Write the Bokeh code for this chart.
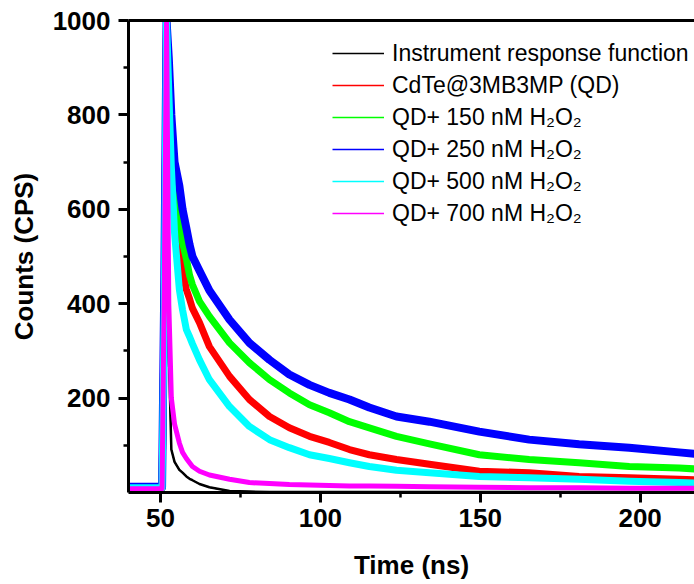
from bokeh.plotting import figure
from bokeh.models import Range1d, FixedTicker, LinearAxis, Legend, LegendItem
from bokeh.embed import file_html
from bokeh.resources import INLINE

# ---- data ----
time_ns = [40, 50.5, 51.2, 51.9, 52.6, 53.4, 54.4, 55.9, 56.9, 58.1, 59.1, 60.0, 62.2, 65.3,
           71.6, 77.8, 84.1, 90.3, 96.6, 102.8, 109.1, 115.3, 123.8, 134.1, 149.7, 165.3,
           180.9, 196.6, 212.2, 217]
irf = [2, 2, 300, 1000, 300, 91, 65, 48, 42, 34, 29, 26, 18, 11,
       3, 2, 1, 1, 1, 1, 1, 1, 1, 1, 1, 1, 1, 1, 1, 1]
qd = [10, 10, 400, 1000, 820, 730, 669, 520, 470, 430, 410, 390, 360, 309,
      246, 197, 161, 137, 119, 106, 91, 80, 70, 60, 45, 42, 34, 31, 28, 27]
qd_150 = [10, 10, 400, 1000, 880, 783, 680, 584, 530, 495, 460, 440, 405, 373,
          317, 275, 239, 211, 186, 169, 150, 137, 119, 103, 80, 70, 63, 55, 52, 50]
qd_250 = [12, 12, 450, 1000, 920, 800, 700, 650, 600, 560, 525, 500, 470, 428,
          366, 317, 281, 250, 228, 211, 197, 180, 161, 150, 129, 112, 102, 95, 85, 82]
qd_500 = [10, 10, 400, 1000, 850, 690, 550, 430, 387, 345, 330, 315, 281, 239,
          182, 140, 112, 95, 80, 72, 63, 55, 47, 42, 34, 31, 28, 24, 21, 20]
qd_700 = [8, 8, 450, 1000, 400, 200, 145, 105, 85, 72, 63, 55, 45, 37,
          28, 21, 19, 17, 16, 15, 14, 14, 13, 12, 11, 10, 10, 9, 9, 9]

series_labels = ["Instrument response function", "CdTe@3MB3MP (QD)",
                 "QD+ 150 nM H\u2082O\u2082", "QD+ 250 nM H\u2082O\u2082",
                 "QD+ 500 nM H\u2082O\u2082", "QD+ 700 nM H\u2082O\u2082"]
series_values = [irf, qd, qd_150, qd_250, qd_500, qd_700]
series_colors = ["#000000", "#ff0000", "#00ff00", "#0000ff", "#00ffff", "#ff00ff"]
series_widths = [2.5, 7, 7, 8, 7, 5]

x_ticks = [50, 100, 150, 200]
x_minor = [75, 125, 175]
y_ticks = [200, 400, 600, 800, 1000]
y_minor = [100, 300, 500, 700, 900]

FONT = "Liberation Sans"

p = figure(width=694, height=584, output_backend="svg", toolbar_location=None,
           x_range=Range1d(40, 217), y_range=Range1d(0, 1000),
           min_border_left=128, min_border_right=0, min_border_top=20,
           min_border_bottom=92, x_axis_label="Time (ns)", y_axis_label="Counts (CPS)")
p.xgrid.visible = False
p.ygrid.visible = False
p.outline_line_color = None
p.background_fill_color = "white"
p.border_fill_color = "white"

p.xaxis.ticker = FixedTicker(ticks=x_ticks, minor_ticks=x_minor)
p.yaxis.ticker = FixedTicker(ticks=y_ticks, minor_ticks=y_minor)

for ax in (p.xaxis[0], p.yaxis[0]):
    ax.axis_line_width = 3
    ax.axis_line_color = "black"
    ax.major_tick_line_width = 3
    ax.minor_tick_line_width = 2.5
    ax.major_tick_out = 10
    ax.major_tick_in = 0
    ax.minor_tick_out = 5
    ax.minor_tick_in = 0
    ax.major_label_text_font = FONT
    ax.major_label_text_font_style = "bold"
    ax.major_label_text_font_size = "26px"
    ax.major_label_text_color = "black"
    ax.axis_label_text_font = FONT
    ax.axis_label_text_font_style = "bold"
    ax.axis_label_text_font_size = "26px"
    ax.axis_label_text_color = "black"
p.xaxis.major_label_standoff = 6
p.xaxis.axis_label_standoff = 20
p.yaxis.major_label_standoff = 8
p.yaxis.axis_label_standoff = 11

top_axis = LinearAxis(ticker=FixedTicker(ticks=[]), axis_line_width=3,
                      axis_line_color="black", major_tick_line_color=None,
                      minor_tick_line_color=None, major_label_text_font_size="0px")
p.add_layout(top_axis, "above")

items = []
for lab, vals, col, w in zip(series_labels, series_values, series_colors, series_widths):
    thin = p.line(time_ns, vals, line_color=col, line_width=1.3)
    p.line(time_ns, vals, line_color=col, line_width=w, line_join="round")
    items.append(LegendItem(label=lab, renderers=[thin]))

legend = Legend(items=items, location=(204, 265), padding=0, margin=0,
                glyph_width=52, glyph_height=28, label_height=28, spacing=4,
                label_standoff=8, label_text_font=FONT, label_text_font_size="23px",
                label_text_color="black", background_fill_alpha=0,
                border_line_color=None)
p.add_layout(legend, "center")

open("out.html", "w").write(file_html(p, INLINE))
